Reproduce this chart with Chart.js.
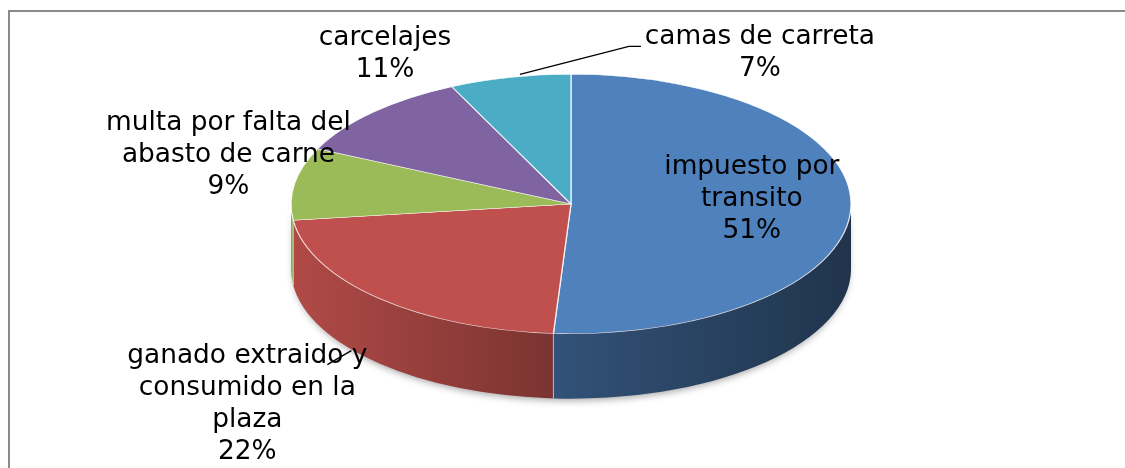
<!DOCTYPE html>
<html>
<head>
<meta charset="utf-8">
<script src="https://cdn.jsdelivr.net/npm/chart.js@4.4.0/dist/chart.umd.min.js"></script>
<style>
  html, body { margin: 0; padding: 0; background: #fff; overflow: hidden; }
  .wrap { position: relative; width: 1125px; height: 468px; }
  .frame { position: absolute; left: 8px; top: 10px; width: 1200px; height: 600px; border: 2px solid #8a8a8a; box-sizing: border-box; }
  canvas { position: absolute; left: 0; top: 0; }
</style>
</head>
<body>
<div class="wrap">
  <div class="frame"></div>
  <canvas id="pieChart" width="1125" height="468"></canvas>
</div>
<script>
const categories = ['impuesto por transito', 'ganado extraido y consumido en la plaza', 'multa por falta del abasto de carne', 'carcelajes', 'camas de carreta'];
const values = [51, 22, 9, 11, 7];
const colors = ['#4F81BD', '#C0504D', '#9BBB59', '#8064A2', '#4BACC6'];

// label centre, offset from the middle of each slice's rim
const labelOffsets = [[-99, -9], [-132, 106], [-66, -29], [12, -58], [250, -24]];
// leader lines, points relative to the label centre
const leaders = [null, [[80, -40], [104, -54]], null, null, [[-119, -7], [-131, -7], [-240, 21]]];

const RX = 280, DEPTH = 65, LINE_H = 32;

const shade = (hex, f) => {
  const n = parseInt(hex.slice(1), 16);
  return `rgb(${Math.round((n >> 16) * f)},${Math.round(((n >> 8) & 255) * f)},${Math.round((n & 255) * f)})`;
};

const wrapText = (ctx, text, maxW) => {
  const words = text.split(' ');
  const lines = [];
  let cur = '';
  words.forEach(w => {
    const t = cur ? cur + ' ' + w : w;
    if (cur && ctx.measureText(t).width > maxW) { lines.push(cur); cur = w; }
    else cur = t;
  });
  if (cur) lines.push(cur);
  return lines;
};

/*=============== 3D PIE PLUGIN ===============*/
const pie3d = {
  id: 'pie3d',
  beforeDatasetsDraw(chart) {
    const ctx = chart.ctx;
    const arcs = chart.getDatasetMeta(0).data;
    const { x: cx, y: cy, outerRadius: r } = arcs[0];
    const sx = RX / r;
    ctx.save();
    ctx.translate(cx, cy); ctx.scale(sx, 1); ctx.translate(-cx, -cy);

    // soft shadow under the body
    ctx.save();
    ctx.shadowColor = 'rgba(0,0,0,0.35)';
    ctx.shadowBlur = 7;
    ctx.shadowOffsetY = 3;
    ctx.beginPath();
    ctx.arc(cx, cy, r - 1, 0, Math.PI);
    ctx.arc(cx, cy + DEPTH, r - 1, Math.PI, 0, true);
    ctx.closePath();
    ctx.fillStyle = shade(colors[1], 0.7);
    ctx.fill();
    ctx.restore();

    // side walls
    arcs.forEach((arc, i) => {
      const a1 = Math.max(arc.startAngle, 0), a2 = Math.min(arc.endAngle, Math.PI);
      if (a2 <= a1) return;
      const g = ctx.createLinearGradient(cx - r, 0, cx + r, 0);
      g.addColorStop(0, shade(colors[i], 0.92));
      g.addColorStop(0.5, shade(colors[i], 0.62));
      g.addColorStop(1, shade(colors[i], 0.40));
      ctx.beginPath();
      ctx.arc(cx, cy, r, a1, a2);
      ctx.arc(cx, cy + DEPTH, r, a2, a1, true);
      ctx.closePath();
      ctx.fillStyle = g;
      ctx.fill();
    });

    // edges between slices on the side
    ctx.strokeStyle = 'rgba(255,255,255,0.85)';
    ctx.lineWidth = 1 / sx;
    arcs.forEach(arc => {
      const a = arc.startAngle;
      if (a > 0 && a < Math.PI) {
        const x = cx + r * Math.cos(a), y = cy + r * Math.sin(a);
        ctx.beginPath();
        ctx.moveTo(x, y);
        ctx.lineTo(x, y + DEPTH);
        ctx.stroke();
      }
    });
    // the top face is drawn by Chart.js with this transform still applied
  },
  afterDatasetsDraw(chart) {
    const ctx = chart.ctx;
    ctx.restore();

    const arcs = chart.getDatasetMeta(0).data;
    const { x: cx, y: cy, outerRadius: r } = arcs[0];
    const total = values.reduce((a, b) => a + b, 0);

    ctx.save();
    ctx.font = '26.4px "DejaVu Sans"';
    ctx.fillStyle = '#000';
    ctx.textAlign = 'center';
    ctx.textBaseline = 'middle';
    arcs.forEach((arc, i) => {
      const m = (arc.startAngle + arc.endAngle) / 2;
      const lx = cx + RX * Math.cos(m) + labelOffsets[i][0];
      const ly = cy + r * Math.sin(m) + labelOffsets[i][1];
      const lines = wrapText(ctx, categories[i], 270);
      lines.push(Math.round(values[i] / total * 100) + '%');
      const y0 = ly - (lines.length - 1) * LINE_H / 2;
      lines.forEach((t, k) => ctx.fillText(t, lx, y0 + k * LINE_H));

      if (leaders[i]) {
        ctx.beginPath();
        ctx.strokeStyle = '#000';
        ctx.lineWidth = 1.4;
        leaders[i].forEach(([dx, dy], k) => {
          if (k === 0) ctx.moveTo(lx + dx, ly + dy);
          else ctx.lineTo(lx + dx, ly + dy);
        });
        ctx.stroke();
      }
    });
    ctx.restore();
  }
};

// Pie Chart
const ctxPie = document.getElementById('pieChart').getContext('2d');
new Chart(ctxPie, {
  type: 'pie',
  data: {
    labels: categories,
    datasets: [{
      data: values,
      backgroundColor: colors,
      borderColor: 'rgba(255,255,255,0.85)',
      borderWidth: 0.6,
      clip: false
    }]
  },
  options: {
    responsive: false,
    animation: false,
    events: [],
    layout: {
      padding: { left: 441, right: 424, top: 74, bottom: 134 }
    },
    plugins: {
      legend: { display: false },
      tooltip: { enabled: false }
    }
  },
  plugins: [pie3d]
});
</script>
</body>
</html>
